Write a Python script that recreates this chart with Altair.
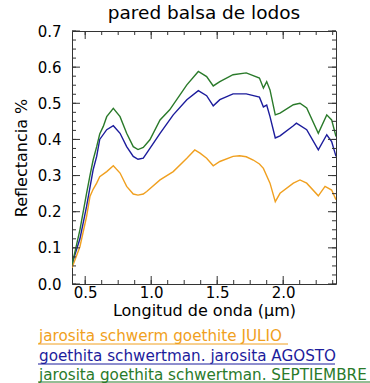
import altair as alt
import pandas as pd

# ---- data ----
wl_julio = [0.40, 0.46, 0.51, 0.536, 0.56, 0.587, 0.61, 0.663, 0.713, 0.764, 0.814, 0.864,
            0.90, 0.94, 0.966, 1.067, 1.167, 1.27, 1.33, 1.37, 1.42, 1.47, 1.52, 1.62, 1.67,
            1.72, 1.773, 1.82, 1.85, 1.90, 1.94, 1.976, 2.077, 2.127, 2.178, 2.266, 2.317,
            2.367, 2.40]
julio = [0.045, 0.103, 0.186, 0.242, 0.262, 0.279, 0.297, 0.311, 0.327, 0.307, 0.27, 0.249,
         0.246, 0.249, 0.256, 0.288, 0.311, 0.348, 0.371, 0.362, 0.348, 0.327, 0.339, 0.353,
         0.355, 0.352, 0.343, 0.332, 0.32, 0.279, 0.228, 0.251, 0.279, 0.288, 0.279, 0.244,
         0.27, 0.26, 0.233]

wl_agosto = [0.40, 0.46, 0.51, 0.56, 0.587, 0.61, 0.663, 0.713, 0.764, 0.814, 0.864, 0.90,
             0.94, 0.966, 1.067, 1.167, 1.27, 1.357, 1.42, 1.47, 1.52, 1.62, 1.72, 1.82,
             1.85, 1.875, 1.90, 1.94, 1.976, 2.077, 2.10, 2.178, 2.266, 2.33, 2.367, 2.40]
agosto = [0.055, 0.125, 0.214, 0.316, 0.353, 0.40, 0.427, 0.438, 0.417, 0.38, 0.353, 0.345,
          0.348, 0.362, 0.417, 0.468, 0.51, 0.535, 0.521, 0.493, 0.51, 0.526, 0.526, 0.517,
          0.49, 0.495, 0.463, 0.404, 0.41, 0.438, 0.445, 0.427, 0.371, 0.413, 0.394, 0.353]

wl_sept = [0.40, 0.46, 0.51, 0.536, 0.56, 0.587, 0.61, 0.637, 0.663, 0.713, 0.764, 0.814,
           0.864, 0.90, 0.94, 0.99, 1.067, 1.14, 1.27, 1.357, 1.42, 1.47, 1.52, 1.62, 1.72,
           1.82, 1.85, 1.875, 1.90, 1.94, 1.976, 2.077, 2.127, 2.178, 2.266, 2.33, 2.367, 2.40]
sept = [0.053, 0.15, 0.25, 0.30, 0.343, 0.38, 0.415, 0.436, 0.463, 0.486, 0.463, 0.417,
        0.38, 0.372, 0.378, 0.399, 0.454, 0.482, 0.551, 0.588, 0.574, 0.548, 0.56, 0.579,
        0.584, 0.57, 0.542, 0.56, 0.537, 0.468, 0.473, 0.496, 0.50, 0.487, 0.417, 0.468,
        0.454, 0.408]

series_names = ["jarosita schwerm goethite JULIO",
                "goethita schwertman. jarosita AGOSTO",
                "jarosita goethita schwertman. SEPTIEMBRE"]
series_colors = ["#f0a020", "#1c1c9c", "#2a7a2a"]

x_major = [0.5, 1.0, 1.5, 2.0]
x_minor = [0.5 + 0.125 * i for i in range(16)]
y_major = [0.0, 0.1, 0.2, 0.3, 0.4, 0.5, 0.6, 0.7]
y_minor = [0.025 * i for i in range(29)]

W, H = 264, 253

rows = []
for name, wl, vals in zip(series_names, [wl_julio, wl_agosto, wl_sept], [julio, agosto, sept]):
    for w, v in zip(wl, vals):
        rows.append({"serie": name, "wl": w, "refl": v})
df = pd.DataFrame(rows)

xscale = alt.Scale(domain=[0.4, 2.4], nice=False, zero=False)
yscale = alt.Scale(domain=[0.0, 0.7], nice=False)

x_axis = alt.Axis(values=x_major, format=".1f", title="Longitud de onda (µm)",
                  ticks=False, domain=False, grid=False, labelPadding=1,
                  titlePadding=2, labelOverlap=False, labelFlush=False)
y_axis = alt.Axis(values=y_major, format=".1f", title="Reflectancia %",
                  ticks=False, domain=False, grid=False, labelPadding=11,
                  titlePadding=8, labelOverlap=False, labelFlush=False)

lines = alt.Chart(df).mark_line(strokeWidth=1.4, clip=True).encode(
    x=alt.X("wl:Q", scale=xscale, axis=x_axis),
    y=alt.Y("refl:Q", scale=yscale, axis=y_axis),
    color=alt.Color("serie:N", scale=alt.Scale(domain=series_names, range=series_colors),
                    legend=None),
    detail="serie:N",
)

xmaj = pd.DataFrame({"t": x_major})
xmin = pd.DataFrame({"t": x_minor})
ymaj = pd.DataFrame({"t": y_major})
ymin = pd.DataFrame({"t": y_minor})

def xticks(d, L):
    b = alt.Chart(d).mark_rule(color="#333", strokeWidth=1).encode(
        x=alt.X("t:Q", scale=xscale, axis=x_axis), y=alt.value(H), y2=alt.value(H - L))
    t = alt.Chart(d).mark_rule(color="#333", strokeWidth=1).encode(
        x=alt.X("t:Q", scale=xscale, axis=x_axis), y=alt.value(0), y2=alt.value(L))
    return [b, t]

def yticks(d, L):
    l = alt.Chart(d).mark_rule(color="#333", strokeWidth=1).encode(
        y=alt.Y("t:Q", scale=yscale, axis=y_axis), x=alt.value(0), x2=alt.value(L))
    r = alt.Chart(d).mark_rule(color="#333", strokeWidth=1).encode(
        y=alt.Y("t:Q", scale=yscale, axis=y_axis), x=alt.value(W), x2=alt.value(W - L))
    return [l, r]

ticks = xticks(xmaj, 8) + xticks(xmin, 4) + yticks(ymaj, 8) + yticks(ymin, 4)

legend_layers = []
text_y = [305, 325, 344]
under_y = [313, 333, 351]
under_x2 = [216, 263, 298]
for name, col, ty, uy, ux2 in zip(series_names, series_colors, text_y, under_y, under_x2):
    legend_layers.append(
        alt.Chart(pd.DataFrame({"label": [name]})).mark_text(
            align="left", baseline="middle", fontSize=15.2, font="DejaVu Sans", color=col
        ).encode(x=alt.value(-33), y=alt.value(ty), text="label:N"))
    legend_layers.append(
        alt.Chart(pd.DataFrame({"label": [name]})).mark_rule(color=col, strokeWidth=1).encode(
            x=alt.value(-34), x2=alt.value(ux2), y=alt.value(uy)))

chart = alt.layer(lines, *ticks, *legend_layers).properties(
    width=W, height=H,
    background="white",
    title=alt.TitleParams("pared balsa de lodos", fontSize=18.5, font="DejaVu Sans",
                          fontWeight="normal", color="black", offset=2),
    autosize=alt.AutoSizeParams(type="none"),
    padding={"left": 72, "top": 31, "right": 34, "bottom": 99},
).configure_view(stroke="#333", strokeWidth=1).configure_axis(
    labelFont="DejaVu Sans", labelFontSize=15, labelColor="black",
    titleFont="DejaVu Sans", titleFontSize=16, titleFontWeight="normal", titleColor="black",
)

chart.save("out.html", embed_options={"renderer": "svg", "actions": False})
